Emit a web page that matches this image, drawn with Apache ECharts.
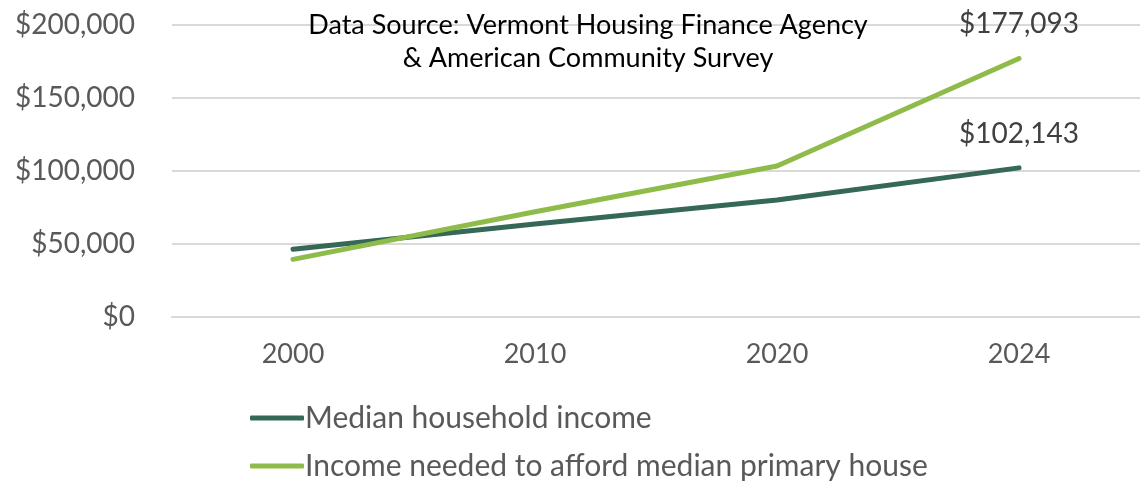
<!DOCTYPE html>
<html>
<head>
<meta charset="utf-8">
<script src="https://cdn.jsdelivr.net/npm/echarts@6/dist/echarts.min.js"></script>
<style>
html, body { margin: 0; padding: 0; background: #fff; }
#chart { width: 1140px; height: 486px; }
</style>
</head>
<body>
<div id="chart"></div>
<script>
var years = ['2000', '2010', '2020', '2024'];
var medianIncome = [46400, 63700, 80100, 102143];
var neededIncome = [39500, 72100, 103400, 177093];
var seriesNames = ['Median household income', 'Income needed to afford median primary house'];
var sourceLines = ['Data Source: Vermont Housing Finance Agency', '& American Community Survey'];

var FONT = 'Lato';

//只在最后一个点显示数值
function lastLabel(params) {
	if (params.dataIndex != years.length - 1) {
		return '';
	}
	return '$' + params.value.toLocaleString('en-US');
}

function lineSeries(name, data, color) {
	return {
		name : name,
		type : 'line',
		data : data,
		symbol : 'circle',
		symbolSize : 0,
		showSymbol : true,
		color : color,
		lineStyle : { width : 5, color : color, cap : 'round' },
		label : {
			show : true,
			position : 'top',
			distance : 20,
			fontFamily : FONT,
			fontSize : 28,
			color : '#404040',
			formatter : lastLabel
		}
	};
}

function drawChart() {
	var chart = echarts.init(document.getElementById('chart'));
	var option = {
		animation : false,
		textStyle : { fontFamily : FONT },
		title : {
			text : sourceLines.join('\n'),
			left : 583,
			top : 4,
			textAlign : 'center',
			textStyle : {
				fontFamily : FONT,
				fontWeight : 'normal',
				fontSize : 27,
				lineHeight : 33,
				color : '#000'
			}
		},
		legend : {
			orient : 'vertical',
			left : 245,
			top : 398,
			itemGap : 18,
			itemWidth : 54,
			itemHeight : 5,
			icon : 'roundRect',
			textStyle : { fontFamily : FONT, fontSize : 30, color : '#595959', padding : [0, 0, 0, -4] },
			data : seriesNames
		},
		grid : {
			left : 172,
			right : 0,
			top : 25,
			bottom : 169,
			containLabel : false
		},
		xAxis : {
			type : 'category',
			data : years,
			boundaryGap : true,
			axisLine : { lineStyle : { color : '#d9d9d9', width : 2 } },
			axisTick : { show : false },
			axisLabel : { fontFamily : FONT, fontSize : 27, color : '#595959', margin : 24 }
		},
		yAxis : {
			type : 'value',
			min : 0,
			max : 200000,
			interval : 50000,
			axisLine : { show : false },
			axisTick : { show : false },
			splitLine : { lineStyle : { color : '#d9d9d9', width : 2 } },
			axisLabel : {
				fontFamily : FONT,
				fontSize : 28,
				color : '#595959',
				margin : 37,
				formatter : function(v) { return '$' + v.toLocaleString('en-US'); }
			}
		},
		series : [
			lineSeries(seriesNames[0], medianIncome, '#356856'),
			lineSeries(seriesNames[1], neededIncome, '#8fbb4a')
		]
	};
	chart.setOption(option, true);
}

drawChart();
</script>
</body>
</html>
